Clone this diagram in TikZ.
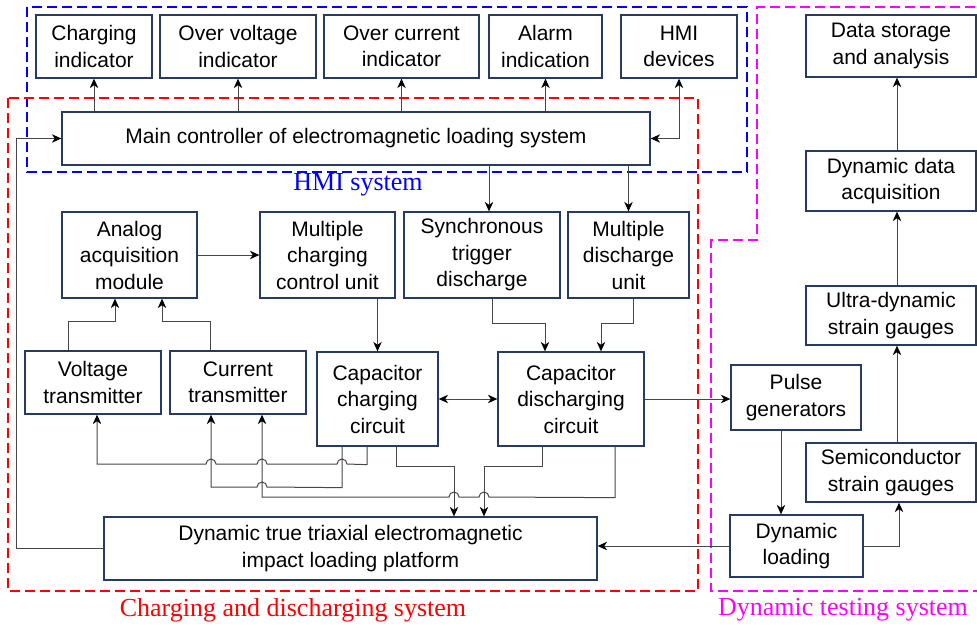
\documentclass[tikz,border=0pt]{standalone}
\usepackage{fontspec}
\setmainfont{Liberation Sans}
\newfontfamily\captionfont{Liberation Serif}
\usetikzlibrary{arrows.meta,calc}

\definecolor{boxblue}{RGB}{38,58,98}
\definecolor{wiregray}{RGB}{70,70,70}
\definecolor{hmiblue}{RGB}{0,0,255}
\definecolor{chgred}{RGB}{255,0,0}
\definecolor{testpink}{RGB}{255,0,255}

\tikzset{
  blk/.style={draw=boxblue, line width=1.3pt, fill=white, align=center, inner sep=2pt,
    font=\fontsize{21}{26.5}\selectfont},
  wire/.style={draw=wiregray, line width=1pt},
  arr/.style={wire, -{Stealth[length=9.5pt,width=8.5pt,inset=3pt,color=black]}},
  arrboth/.style={wire, {Stealth[length=9.5pt,width=8.5pt,inset=3pt,color=black]}-{Stealth[length=9.5pt,width=8.5pt,inset=3pt,color=black]}},
  zone/.style={line width=1.5pt, dash pattern={on 10pt off 5pt}},
  zonelbl/.style={font=\captionfont\fontsize{26}{30}\selectfont},
}
% bump over a crossing wire, for a line running to the left
\newcommand{\hopover}[1]{-- ($(#1)+(5,0)$) arc[start angle=0,end angle=-180,radius=5]}

\begin{document}
\begin{tikzpicture}[x=1pt,y=1pt,yscale=-1]
\useasboundingbox (0,0) rectangle (977,630);

% system zones
\draw[zone, hmiblue] (27,7) rectangle (747,172);
\draw[zone, chgred] (8,98) rectangle (698,591);
\draw[zone, testpink] (990,7) -- (757,7) -- (757,240) -- (711,240) -- (711,591) -- (990,591);

% HMI row
\node[blk, minimum width=116, minimum height=63] (ci) at (94,46.5) {Charging\\indicator};
\node[blk, minimum width=156, minimum height=63] (ovi) at (238,46.5) {Over voltage\\indicator};
\node[blk, minimum width=155, minimum height=63] (oci) at (401.5,46.5) {Over current\\indicator};
\node[blk, minimum width=113, minimum height=63] (ai) at (545.5,46.5) {Alarm\\indication};
\node[blk, minimum width=116, minimum height=63] (hmi) at (679,46.5) {HMI\\devices};
\node[blk, minimum width=588, minimum height=53] (mc) at (356,138.5) {Main controller of electromagnetic loading system};

% charging and discharging
\node[blk, minimum width=135, minimum height=86] (aam) at (129.5,255) {Analog\\acquisition\\module};
\node[blk, minimum width=135, minimum height=86] (mccu) at (327.5,255) {Multiple\\charging\\control unit};
\node[blk, minimum width=156, minimum height=86] (stg) at (482,255) {Synchronous\\trigger\\discharge};
\node[blk, minimum width=121, minimum height=86] (mdu) at (628.5,255) {Multiple\\discharge\\unit};
\node[blk, minimum width=136, minimum height=63] (vt) at (93,382.5) {Voltage\\transmitter};
\node[blk, minimum width=136, minimum height=63] (ct) at (238,382.5) {Current\\transmitter};
\node[blk, minimum width=121, minimum height=94] (cc) at (377.5,399) {Capacitor\\charging\\circuit};
\node[blk, minimum width=146, minimum height=94] (cd) at (571,399) {Capacitor\\discharging\\circuit};
\node[blk, minimum width=493, minimum height=63] (pf) at (350.5,548.5) {Dynamic true triaxial electromagnetic\\impact loading platform};

% dynamic testing
\node[blk, minimum width=130, minimum height=65] (pg) at (796,397.5) {Pulse\\generators};
\node[blk, minimum width=133, minimum height=62] (dl) at (796.5,546) {Dynamic\\loading};
\node[blk, minimum width=170, minimum height=62] (dsa) at (891,46) {Data storage\\and analysis};
\node[blk, minimum width=170, minimum height=60] (dda) at (891,181) {Dynamic data\\acquisition};
\node[blk, minimum width=170, minimum height=59] (udsg) at (891,315.5) {Ultra-dynamic\\strain gauges};
\node[blk, minimum width=170, minimum height=59] (ssg) at (891,472.5) {Semiconductor\\strain gauges};

% zone labels
\node[zonelbl, text=hmiblue] (hmilbl) at (358,185) {HMI system};
\node[zonelbl, text=chgred] (cdslbl) at (293,610) {Charging and discharging system};
\node[zonelbl, text=testpink] (dtslbl) at (843,610) {Dynamic testing system};

% controller to indicators
\draw[arr] (ci.south |- mc.north) -- (ci.south);
\draw[arr] (ovi.south |- mc.north) -- (ovi.south);
\draw[arr] (oci.south |- mc.north) -- (oci.south);
\draw[arr] (ai.south |- mc.north) -- (ai.south);
\draw[arrboth] (hmi.south) |- (mc.east);
\draw[arr] (pf.west) -- ++(-87,0) |- (mc.west);

% controller to discharge side
\draw[arr] ([xshift=7pt]stg.north |- mc.south) -- ([xshift=7pt]stg.north);
\draw[arr] (mdu.north |- mc.south) -- (mdu.north);

% acquisition and control
\draw[arr] (aam) -- (mccu);
\draw[arr] ([xshift=-25pt]vt.north) -- ++(0,-29) -| ([xshift=-14.5pt]aam.south);
\draw[arr] ([xshift=-28pt]ct.north) -- ++(0,-29) -| ([xshift=32.5pt]aam.south);
\draw[arr] (cc.north |- mccu.south) -- (cc.north);
\draw[arr] ([xshift=10pt]stg.south) -- ++(0,25) -| ([xshift=-26pt]cd.north);
\draw[arr] ([xshift=4.5pt]mdu.south) -- ++(0,25) -| ([xshift=30pt]cd.north);
\draw[arrboth] (cc) -- (cd);
\draw[arr] (cd.east) -- (cd.east -| pg.west);

% measuring wires to transmitters
\draw[arr] ([xshift=-10.5pt]cc.south) -- ++(0,18) \hopover{342,464} \hopover{262,464} \hopover{211,464} -| ([xshift=4pt]vt.south);
\draw[arr] ([xshift=-35.5pt]cc.south) -- ++(0,41) \hopover{262,487} -| ([xshift=-27pt]ct.south);
\draw[arr] ([xshift=44pt]cd.south) -- ++(0,51) \hopover{484,497} \hopover{454,497} -| ([xshift=24pt]ct.south);

% circuits to platform
\draw[arr] ([xshift=18.5pt]cc.south) -- ++(0,20) -| ([xshift=103.5pt]pf.north);
\draw[arr] ([xshift=-29pt]cd.south) -- ++(0,20) -| ([xshift=133.5pt]pf.north);

% testing chain
\draw[arr] ([xshift=-15pt]pg.south) -- ([xshift=-15pt]pg.south |- dl.north);
\draw[arr] (dl.west) -- (dl.west -| pf.east);
\draw[arr] (dl.east) -| ([xshift=8pt]ssg.south);
\draw[arr] ([xshift=6pt]ssg.north) -- ([xshift=6pt]udsg.south);
\draw[arr] ([xshift=6pt]udsg.north) -- ([xshift=6pt]dda.south);
\draw[arr] ([xshift=6pt]dda.north) -- ([xshift=6pt]dsa.south);

\end{tikzpicture}
\end{document}
